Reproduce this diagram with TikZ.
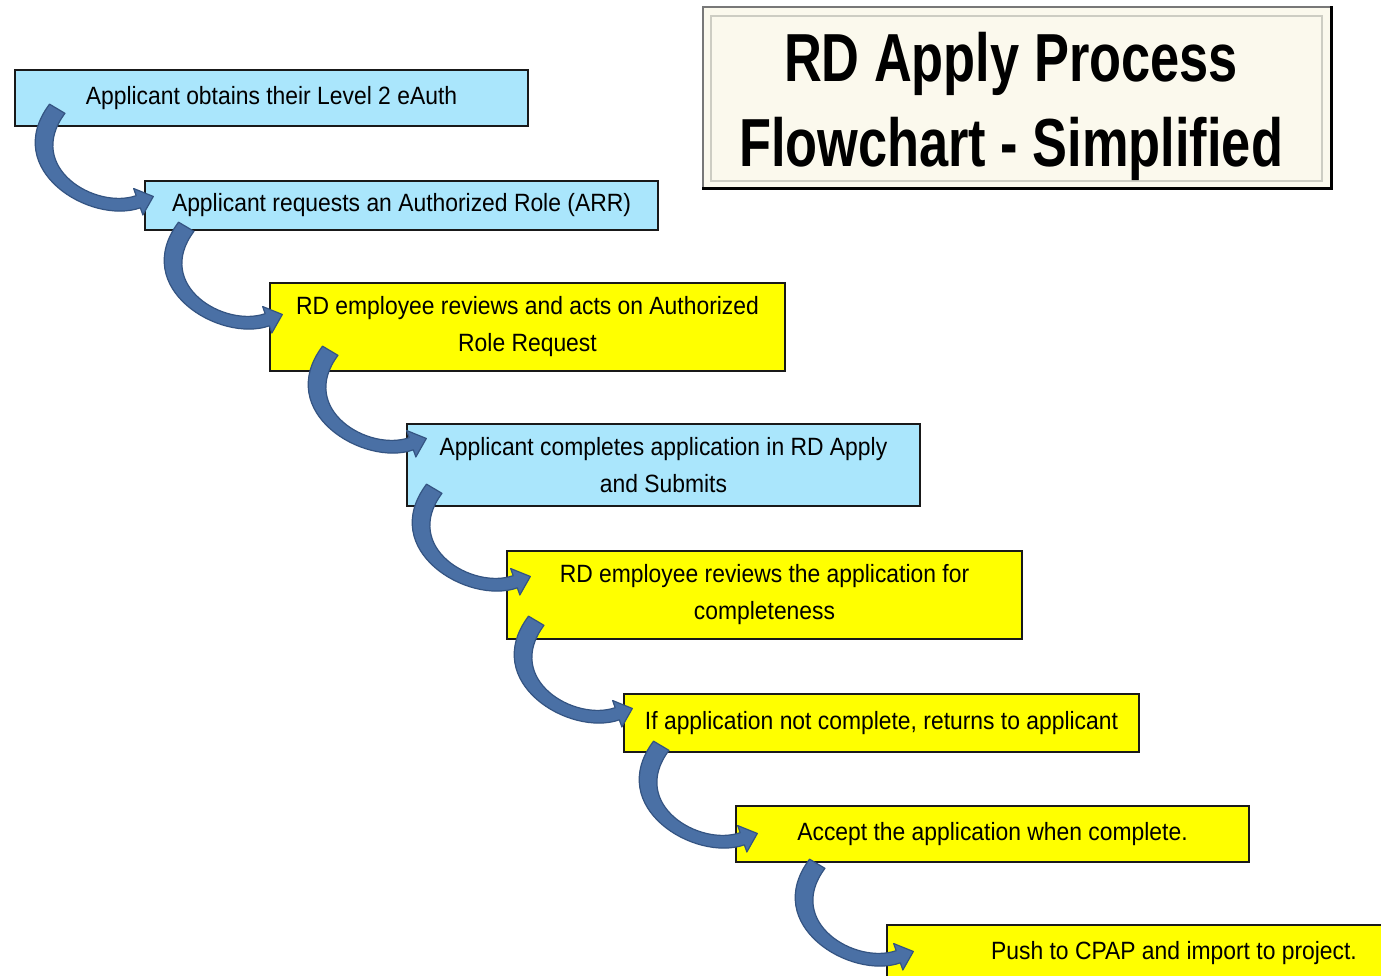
\documentclass[tikz,border=0pt]{standalone}
\usepackage{fontspec}
\setmainfont{Liberation Sans}
\newfontfamily\bodyfont[FakeStretch=0.915]{Liberation Sans}
\newfontfamily\titlefont[FakeStretch=0.77]{Liberation Sans}
\usetikzlibrary{calc}
\definecolor{boxblue}{RGB}{170,230,252}
\definecolor{boxyellow}{RGB}{255,255,0}
\definecolor{arrowfill}{RGB}{74,112,165}
\definecolor{arrowedge}{RGB}{52,84,130}
\definecolor{titlefill}{RGB}{251,249,237}
\definecolor{titleinner}{RGB}{205,205,195}
\definecolor{titleedge}{RGB}{120,120,120}
\definecolor{boxline}{RGB}{25,25,25}
\begin{document}
\begin{tikzpicture}[x=1pt,y=-1pt,
  stepbox/.style={draw=boxline, line width=1.5pt, inner sep=0pt, align=center,
    font={\bodyfont\fontsize{25}{37}\selectfont}},
  bluebox/.style={stepbox, fill=boxblue},
  yellowbox/.style={stepbox, fill=boxyellow},
  titlebox/.style={draw=titleedge, line width=1.2pt, fill=titlefill, inner sep=0pt,
    minimum width=628pt, minimum height=181pt},
  titletext/.style={inner sep=0pt, anchor=base,
    font={\titlefont\bfseries\fontsize{68}{80}\selectfont}},
  curvarrow/.pic={
    \filldraw[fill=arrowfill, draw=arrowedge, line width=1.2pt, line join=round]
      (-7.7,-4.6) .. controls (-57.2,61.4) and (33.3,116.5) .. (83.1,99.1)
      -- (85.6,106.2) -- (96.1,87.7) -- (76.4,79.8) -- (78.9,86.9)
      .. controls (38.1,101.1) and (-32.8,58.6) .. (7.7,4.6) -- cycle;
  }
]
\useasboundingbox (0,0) rectangle (1381,976);
\clip (0,0) rectangle (1381,976);
\fill[white] (0,0) rectangle (1381,976);

% title
\node[titlebox] (title) at (1017,97.5) {};
\draw[titleinner, line width=2pt] ($(title.north west)+(9,10)$) rectangle ($(title.south east)+(-10,-8)$);
\draw[black, line width=3pt] (title.north east) -- (title.south east) -- (title.south west);
\node[titletext] (titleA) at (1011,82) {RD Apply Process};
\node[titletext] (titleB) at (1011,167) {Flowchart - Simplified};

% boxes
\node[bluebox, minimum width=513pt, minimum height=56pt] (b1) at (271.5,98) {Applicant obtains their Level 2 eAuth};
\node[bluebox, minimum width=513pt, minimum height=49pt] (b2) at (401.5,205.5) {Applicant requests an Authorized Role (ARR)};
\node[yellowbox, minimum width=515pt, minimum height=88pt] (b3) at (527.5,327) {RD employee reviews and acts on Authorized\\Role Request};
\node[bluebox, minimum width=513pt, minimum height=82pt] (b4) at (663.5,465) {Applicant completes application in RD Apply\\and Submits};
\node[yellowbox, minimum width=515pt, minimum height=88pt] (b5) at (764.5,595) {RD employee reviews the application for\\completeness};
\node[yellowbox, minimum width=515pt, minimum height=58pt] (b6) at (881.5,723) {If application not complete, returns to applicant};
\node[yellowbox, minimum width=513pt, minimum height=56pt] (b7) at (992.5,834) {Accept the application when complete.};
\node[yellowbox, minimum width=574pt, minimum height=56pt] (b8) at (1174,953) {Push to CPAP and import to project.};

% curved arrows
\pic at ($(b1.south west)+(43,-18)$) {curvarrow};
\pic at ($(b2.south west)+(42,-4)$) {curvarrow};
\pic at ($(b3.south west)+(61,-21)$) {curvarrow};
\pic at ($(b4.south west)+(28,-18)$) {curvarrow};
\pic at ($(b5.south west)+(30,-19)$) {curvarrow};
\pic at ($(b6.south west)+(38,-7)$) {curvarrow};
\pic at ($(b7.south west)+(82,1)$) {curvarrow};
\end{tikzpicture}
\end{document}
